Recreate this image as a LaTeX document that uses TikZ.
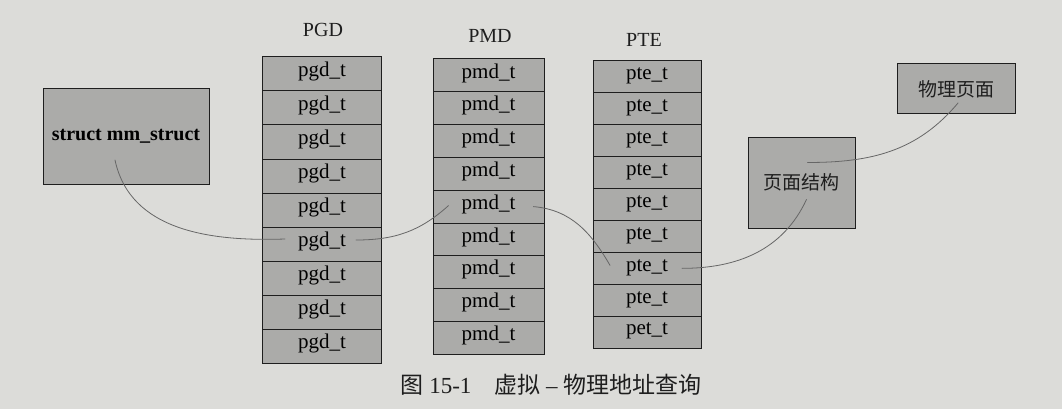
\documentclass[tikz,border=0pt]{standalone}
\usepackage{fontspec}
\setmainfont{Liberation Serif}
\newfontfamily\cjk{Noto Sans CJK SC}
\usetikzlibrary{calc}
\definecolor{paper}{HTML}{DCDCD9}
\definecolor{ink}{HTML}{1E1E1E}
\definecolor{shade}{HTML}{ABABA9}
\definecolor{wire}{HTML}{666666}
\tikzset{
  cell/.style={draw=ink, fill=shade, line width=1pt, inner sep=0pt,
    text height=0.7em, text depth=0.15em, font=\fontsize{21}{21}\selectfont},
  box/.style={draw=ink, fill=shade, line width=1pt, inner sep=0pt},
  lab/.style={text=ink, font=\fontsize{20}{20}\selectfont},
  labc/.style={text=ink, font=\cjk\fontsize{19}{19}\selectfont},
  link/.style={draw=wire, line width=0.8pt, line cap=round},
}

\begin{document}
\begin{tikzpicture}[x=1pt,y=1pt]
  \fill[paper] (0,0) rectangle (1062,-409);
  \useasboundingbox (0,0) rectangle (1062,-409);

  % the three tables
  \foreach \i in {1,...,9}{
    \node[cell,minimum width=119pt,minimum height=34pt] (pgd\i) at (322,{-74-34*(\i-1)}) {pgd\_t};
    \node[cell,minimum width=111pt,minimum height=32.8pt] (pmd\i) at (488.5,{-75.4-32.8*(\i-1)}) {pmd\_t};
  }
  \foreach \i in {1,...,8}{
    \node[cell,minimum width=108pt,minimum height=31.9pt] (pte\i) at (647,{-76.95-31.9*(\i-1)}) {pte\_t};
  }
  \node[cell,minimum width=108pt,minimum height=31.9pt] (pte9) at (647,{-76.95-31.9*8}) {pet\_t};

  \node[lab] (pgdname) at (323,-30) {PGD};
  \node[lab] (pmdname) at (490,-36) {PMD};
  \node[lab] (ptename) at (644,-40) {PTE};

  % other boxes
  \node[box,minimum width=166pt,minimum height=95pt,font=\bfseries\fontsize{20}{20}\selectfont] (mm) at (126,-136.5) {struct mm\_struct};
  \node[box,minimum width=107pt,minimum height=91pt,labc] (page) at (801.5,-182.5) {页面结构};
  \node[box,minimum width=118pt,minimum height=50pt,labc] (phys) at (956,-89) {物理页面};

  % walk through the levels
  \coordinate (m0) at ($(mm.center)+(-11,-23.5)$);
  \coordinate (g0) at ($(pgd6.center)+(-37,5)$);
  \coordinate (g1) at ($(pgd6.center)+(34,4)$);
  \coordinate (d0) at ($(pmd5.center)+(-40,1)$);
  \coordinate (d1) at ($(pmd5.center)+(45,0)$);
  \coordinate (t0) at ($(pte7.center)+(-37,3)$);
  \coordinate (t1) at ($(pte7.center)+(35,0)$);
  \coordinate (p0) at ($(page.center)+(5,-17)$);
  \coordinate (p1) at ($(page.center)+(6,20)$);
  \coordinate (f0) at ($(phys.center)+(2,-14)$);

  \draw[link] (m0) to[out=-78,in=182] (g0);
  \draw[link] (g1) to[out=0,in=-138] (d0);
  \draw[link] (d1) to[out=-5,in=120] (t0);
  \draw[link] (t1) to[out=0,in=-115] (p0);
  \draw[link] (p1) to[out=0,in=-130] (f0);

  \node[text=ink, font=\fontsize{23}{23}\selectfont] (cap) at (551,-385) {{\cjk 图}~15-1\hspace{1em}{\cjk 虚拟}~–~{\cjk 物理地址查询}};
\end{tikzpicture}
\end{document}
